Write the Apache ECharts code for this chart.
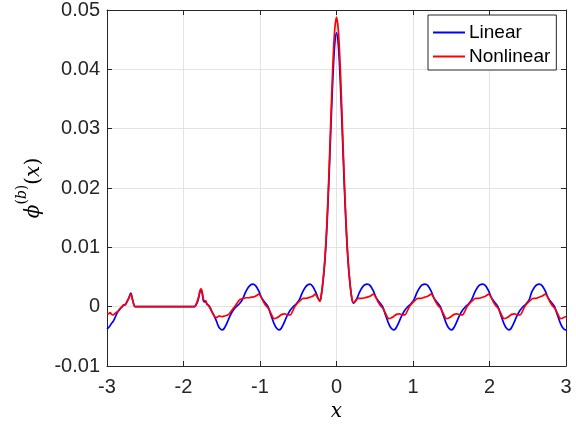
<!DOCTYPE html>
<html>
<head>
<meta charset="utf-8">
<script src="https://cdn.jsdelivr.net/npm/echarts@6/dist/echarts.min.js"></script>
<style>
html,body{margin:0;padding:0;background:#fff;}
#chart{width:576px;height:440px;}
</style>
</head>
<body>
<div id="chart"></div>
<script>
const seriesNames = ['Linear', 'Nonlinear'];
const xTickLabels = ['-3', '-2', '-1', '0', '1', '2', '3'];
const yTickLabels = ['-0.01', '0', '0.01', '0.02', '0.03', '0.04', '0.05'];

const linearX = [
  -3.00, -2.97, -2.94, -2.92, -2.90, -2.88, -2.86, -2.84, -2.82, -2.80, -2.78, -2.76, -2.74, -2.72, -2.70, -2.69, -2.68, -2.665, -2.65, -2.635,
  -2.60, -2.40, -2.20, -2.00, -1.90, -1.86,
  -1.84, -1.82, -1.80, -1.785, -1.77, -1.755, -1.74, -1.725, -1.71, -1.695, -1.68, -1.665, -1.65, -1.63, -1.61, -1.59, -1.57, -1.55, -1.53, -1.50,
  -1.47, -1.43, -1.39, -1.35, -1.31, -1.27, -1.23, -1.19, -1.15, -1.12,
  -1.095, -1.055, -1.015, -0.975, -0.935, -0.895, -0.855, -0.815, -0.785, -0.755, -0.725, -0.685, -0.645, -0.605, -0.565, -0.525, -0.485, -0.445, -0.405, -0.375,
  -0.346, -0.31, -0.27, -0.24, -0.216, -0.20,
  -0.175, -0.15, -0.125, -0.10, -0.075, -0.05, -0.025, 0.00, 0.025, 0.05, 0.075, 0.10, 0.125, 0.15, 0.175, 0.20,
  0.22, 0.26, 0.30, 0.34, 0.37,
  0.403, 0.443, 0.483, 0.523, 0.563, 0.603, 0.643, 0.683, 0.713, 0.743, 0.773, 0.813, 0.853, 0.893, 0.933, 0.973, 1.013, 1.053, 1.093, 1.123,
  1.157, 1.197, 1.237, 1.277, 1.317, 1.357, 1.397, 1.437, 1.467, 1.497, 1.527, 1.567, 1.607, 1.647, 1.687, 1.727, 1.767, 1.807, 1.847, 1.877,
  1.91, 1.95, 1.99, 2.03, 2.07, 2.11, 2.15, 2.19, 2.22, 2.25, 2.28, 2.32, 2.36, 2.40, 2.44, 2.48, 2.52, 2.55, 2.59, 2.62,
  2.65, 2.69, 2.73, 2.77, 2.81, 2.85, 2.89, 2.93, 2.96, 2.99, 3.00
];
const linearY = [
  -0.0038, -0.0034, -0.0028, -0.0025, -0.0020, -0.0014, -0.0009, -0.0006, -0.0002, 0.0000, 0.0003, 0.0003, 0.0008, 0.0013, 0.0020, 0.0023, 0.0020, 0.0011, 0.0004, 0.0000,
  0, 0, 0, 0, 0, 0,
  0.0002, 0.0007, 0.0016, 0.0025, 0.0029, 0.0022, 0.0010, 0.0008, 0.0009, 0.0004, 0.0003, 0.0001, -0.0002, -0.0008, -0.0013, -0.0018, -0.0024, -0.0031, -0.0036, -0.0039,
  -0.0037, -0.0027, -0.0015, -0.0006, 0.0000, 0.0005, 0.0012, 0.0024, 0.0033, 0.0037,
  0.0038, 0.0035, 0.0026, 0.0014, 0.0007, 0.0000, -0.0015, -0.0029, -0.0036, -0.0039, -0.0037, -0.0027, -0.0015, -0.0006, 0.0000, 0.0005, 0.0012, 0.0024, 0.0033, 0.0037,
  0.0038, 0.0034, 0.0024, 0.0014, 0.0010, 0.0018,
  0.0044, 0.0080, 0.0135, 0.0210, 0.0296, 0.0378, 0.0439, 0.0462, 0.0439, 0.0378, 0.0296, 0.0210, 0.0135, 0.0078, 0.0040, 0.0014,
  0.0006, 0.0012, 0.0024, 0.0033, 0.0037,
  0.0038, 0.0035, 0.0026, 0.0014, 0.0007, 0.0000, -0.0015, -0.0029, -0.0036, -0.0039, -0.0037, -0.0027, -0.0015, -0.0006, 0.0000, 0.0005, 0.0012, 0.0024, 0.0033, 0.0037,
  0.0038, 0.0035, 0.0026, 0.0014, 0.0007, 0.0000, -0.0015, -0.0029, -0.0036, -0.0039, -0.0037, -0.0027, -0.0015, -0.0006, 0.0000, 0.0005, 0.0012, 0.0024, 0.0033, 0.0037,
  0.0038, 0.0035, 0.0026, 0.0014, 0.0007, 0.0000, -0.0015, -0.0029, -0.0036, -0.0039, -0.0037, -0.0027, -0.0015, -0.0006, 0.0000, 0.0005, 0.0012, 0.0024, 0.0033, 0.0037,
  0.0038, 0.0035, 0.0026, 0.0014, 0.0007, 0.0000, -0.0015, -0.0029, -0.0036, -0.0039, -0.0039
];

const nonlinearX = [
  -3.00, -2.98, -2.96, -2.94, -2.92, -2.90, -2.88, -2.86, -2.84, -2.82, -2.80, -2.78, -2.76, -2.74, -2.72, -2.70, -2.69, -2.68, -2.665, -2.65, -2.635,
  -2.60, -2.40, -2.20, -2.00, -1.90, -1.86,
  -1.84, -1.82, -1.80, -1.785, -1.77, -1.755, -1.74, -1.725, -1.71, -1.695, -1.68, -1.66, -1.64, -1.62, -1.60, -1.58, -1.56, -1.54, -1.52, -1.50,
  -1.47, -1.44, -1.41, -1.38, -1.35, -1.32, -1.29, -1.26, -1.22, -1.18, -1.14, -1.12,
  -1.095, -1.055, -1.015, -0.985, -0.955, -0.925, -0.895, -0.855, -0.815, -0.785, -0.755, -0.715, -0.675, -0.635, -0.605, -0.575, -0.545, -0.515, -0.475, -0.435, -0.395, -0.365,
  -0.346, -0.306, -0.28, -0.25, -0.216, -0.20,
  -0.175, -0.15, -0.125, -0.10, -0.075, -0.05, -0.025, 0.00, 0.025, 0.05, 0.075, 0.10, 0.125, 0.15, 0.175, 0.20,
  0.22, 0.25, 0.285, 0.33, 0.37,
  0.403, 0.443, 0.483, 0.513, 0.543, 0.573, 0.603, 0.643, 0.683, 0.713, 0.743, 0.783, 0.823, 0.863, 0.893, 0.923, 0.953, 0.983, 1.023, 1.063, 1.103, 1.133,
  1.157, 1.197, 1.237, 1.267, 1.297, 1.327, 1.357, 1.397, 1.437, 1.467, 1.497, 1.537, 1.577, 1.617, 1.647, 1.677, 1.707, 1.737, 1.777, 1.817, 1.857, 1.887,
  1.91, 1.95, 1.99, 2.02, 2.05, 2.08, 2.11, 2.15, 2.19, 2.22, 2.25, 2.29, 2.33, 2.37, 2.40, 2.43, 2.46, 2.49, 2.53, 2.57, 2.61, 2.63,
  2.65, 2.69, 2.73, 2.76, 2.79, 2.82, 2.85, 2.89, 2.93, 2.96, 2.99, 3.00
];
const nonlinearY = [
  -0.0012, -0.0012, -0.0010, -0.0013, -0.0014, -0.0012, -0.0010, -0.0008, -0.0005, -0.0002, 0.0001, 0.0003, 0.0004, 0.0008, 0.0013, 0.0019, 0.0021, 0.0019, 0.0011, 0.0004, 0.0000,
  0, 0, 0, 0, 0, 0,
  0.0003, 0.0009, 0.0018, 0.0027, 0.0030, 0.0024, 0.0013, 0.0010, 0.0010, 0.0005, 0.0003, -0.0001, -0.0006, -0.0011, -0.0015, -0.0018, -0.0018, -0.0016, -0.0016, -0.0017,
  -0.0016, -0.0015, -0.0013, -0.0008, -0.0003, 0.0002, 0.0008, 0.0012, 0.0014, 0.0015, 0.0015, 0.0016,
  0.0016, 0.0018, 0.0021, 0.0016, 0.0008, 0.0002, -0.0002, -0.0012, -0.0020, -0.0019, -0.0017, -0.0013, -0.0012, -0.0014, -0.0014, -0.0008, 0.0000, 0.0005, 0.0010, 0.0014, 0.0014, 0.0015,
  0.0016, 0.0018, 0.0021, 0.0016, 0.0009, 0.0018,
  0.0045, 0.0084, 0.0142, 0.0220, 0.0312, 0.0400, 0.0464, 0.0488, 0.0464, 0.0400, 0.0312, 0.0220, 0.0142, 0.0082, 0.0042, 0.0015,
  0.0007, 0.0010, 0.0014, 0.0014, 0.0015,
  0.0016, 0.0018, 0.0021, 0.0016, 0.0008, 0.0002, -0.0002, -0.0012, -0.0020, -0.0019, -0.0017, -0.0013, -0.0012, -0.0014, -0.0014, -0.0008, 0.0000, 0.0005, 0.0010, 0.0014, 0.0014, 0.0015,
  0.0016, 0.0018, 0.0021, 0.0016, 0.0008, 0.0002, -0.0002, -0.0012, -0.0020, -0.0019, -0.0017, -0.0013, -0.0012, -0.0014, -0.0014, -0.0008, 0.0000, 0.0005, 0.0010, 0.0014, 0.0014, 0.0015,
  0.0016, 0.0018, 0.0021, 0.0016, 0.0008, 0.0002, -0.0002, -0.0012, -0.0020, -0.0019, -0.0017, -0.0013, -0.0012, -0.0014, -0.0014, -0.0008, 0.0000, 0.0005, 0.0010, 0.0014, 0.0014, 0.0015,
  0.0016, 0.0018, 0.0021, 0.0016, 0.0008, 0.0002, -0.0002, -0.0012, -0.0020, -0.0019, -0.0017, -0.0017
];

const xMin = -3, xMax = 3, xStep = 1;
const yMin = -0.01, yMax = 0.05, yStep = 0.01;

const chart = echarts.init(document.getElementById('chart'), null, {renderer: 'canvas'});
const font = 'Liberation Sans, Arial, Helvetica, sans-serif';
const serif = 'DejaVu Serif, Liberation Serif, serif';
const axisColor = '#262626';
const gridColor = '#e3e3e3';

function xLabel(v) { return xTickLabels[Math.round((v - xMin) / xStep)] || ''; }
function yLabel(v) { return yTickLabels[Math.round((v - yMin) / yStep)] || ''; }

const baseX = {
  type: 'value', min: xMin, max: xMax, interval: xStep,
  axisLine: {show: true, onZero: false, lineStyle: {color: axisColor, width: 1}},
  axisTick: {show: true, inside: true, length: 5, lineStyle: {color: axisColor}},
  splitLine: {show: false}
};
const baseY = {
  type: 'value', min: yMin, max: yMax, interval: yStep,
  axisLine: {show: true, onZero: false, lineStyle: {color: axisColor, width: 1}},
  axisTick: {show: true, inside: true, length: 5, lineStyle: {color: axisColor}},
  splitLine: {show: false}
};

const option = {
  animation: false,
  backgroundColor: '#ffffff',
  grid: {left: 107, right: 10, top: 10, bottom: 74, containLabel: false},
  legend: {
    data: seriesNames.map(n => ({name: n, icon: 'rect'})),
    orient: 'vertical',
    left: 428, top: 15,
    padding: [8, 6, 4, 5],
    itemGap: 5,
    itemWidth: 32, itemHeight: 2,
    backgroundColor: '#ffffff',
    borderColor: axisColor, borderWidth: 1, borderRadius: 0,
    textStyle: {fontFamily: font, fontSize: 19, color: '#000', lineHeight: 19, padding: [0, 0, 0, -1]}
  },
  xAxis: [
    Object.assign({}, baseX, {
      position: 'bottom',
      name: 'x', nameLocation: 'middle', nameGap: 34,
      nameTextStyle: {fontFamily: serif, fontStyle: 'italic', fontSize: 20, color: '#000'},
      axisLabel: {show: true, margin: 11, fontFamily: font, fontSize: 20, color: '#262626', formatter: xLabel},
      splitLine: {show: true, lineStyle: {color: gridColor, width: 1}}
    }),
    Object.assign({}, baseX, {position: 'top', axisLabel: {show: false}})
  ],
  yAxis: [
    Object.assign({}, baseY, {
      position: 'left',
      name: '{i|\u03D5}{s|(}{si|b}{s|)}{p|(}{i|x}{p|)}',
      nameLocation: 'middle', nameRotate: 90, nameGap: 60,
      nameTextStyle: {
        color: '#000',
        rich: {
          i: {fontFamily: serif, fontStyle: 'italic', fontSize: 20, color: '#000', lineHeight: 28, verticalAlign: 'bottom'},
          p: {fontFamily: serif, fontSize: 20, color: '#000', lineHeight: 28, verticalAlign: 'bottom'},
          s: {fontFamily: serif, fontSize: 14, color: '#000', verticalAlign: 'top'},
          si: {fontFamily: serif, fontStyle: 'italic', fontSize: 14, color: '#000', verticalAlign: 'top'}
        }
      },
      axisLabel: {show: true, margin: 7, fontFamily: font, fontSize: 20, color: '#262626', formatter: yLabel},
      splitLine: {show: true, lineStyle: {color: gridColor, width: 1}}
    }),
    Object.assign({}, baseY, {position: 'right', axisLabel: {show: false}})
  ],
  series: [
    {
      name: seriesNames[0], type: 'line', xAxisIndex: 0, yAxisIndex: 0,
      data: linearX.map((x, i) => [x, linearY[i]]),
      showSymbol: false, symbol: 'none', smooth: 0.3,
      lineStyle: {color: '#0000ff', width: 1.7}, itemStyle: {color: '#0000ff'}, z: 2
    },
    {
      name: seriesNames[1], type: 'line', xAxisIndex: 0, yAxisIndex: 0,
      data: nonlinearX.map((x, i) => [x, nonlinearY[i]]),
      showSymbol: false, symbol: 'none', smooth: 0.3,
      lineStyle: {color: '#ff0000', width: 1.7}, itemStyle: {color: '#ff0000'}, z: 3
    }
  ]
};
chart.setOption(option);
</script>
</body>
</html>
